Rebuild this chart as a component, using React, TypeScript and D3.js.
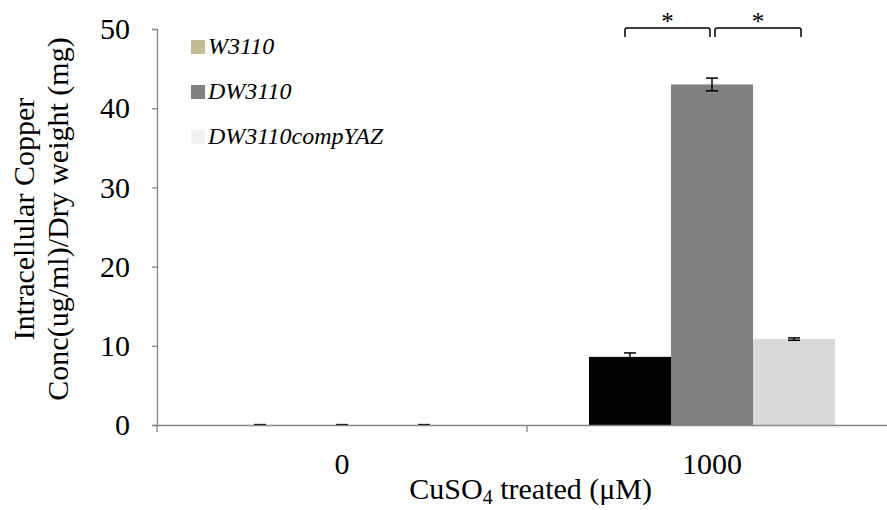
import * as d3 from "d3";
import { useEffect, useRef } from "react";

const categories = ["0", "1000"];
const seriesNames = ["W3110", "DW3110", "DW3110compYAZ"];
const barColors = ["#000000", "#808080", "#d9d9d9"];
const legendColors = ["#c4bc96", "#808080", "#f2f2f2"];
const values = [
    [0, 0, 0],
    [8.6, 43.0, 10.85],
];
const errors = [
    [0.05, 0.05, 0.05],
    [0.5, 0.8, 0.15],
];
const yTicks = [0, 10, 20, 30, 40, 50];

function drawChart(svgElement: SVGSVGElement) {
    const svg = d3.select(svgElement);
    svg.selectAll("*").remove();

    const margin = { top: 29, right: -10, bottom: 85, left: 157 };
    const width = 887 - margin.left - margin.right;
    const height = 510 - margin.top - margin.bottom;
    const font = "'Liberation Serif', 'Times New Roman', serif";

    const chart = svg
        .append("g")
        .attr("transform", `translate(${margin.left},${margin.top})`);

    const x = d3.scaleBand().domain(categories).range([0, width]);
    const y = d3.scaleLinear().domain([0, 50]).range([height, 0]);

    const groupWidth = x.bandwidth() * 0.665;
    const x1 = d3
        .scaleBand()
        .domain(seriesNames)
        .range([(x.bandwidth() - groupWidth) / 2, (x.bandwidth() + groupWidth) / 2]);

    // Bars + error bars
    categories.forEach((cat, ci) => {
        const g = chart.append("g").attr("transform", `translate(${x(cat)},0)`);
        seriesNames.forEach((s, si) => {
            const v = values[ci][si];
            g.append("rect")
                .attr("x", x1(s)!)
                .attr("y", y(v))
                .attr("width", x1.bandwidth())
                .attr("height", height - y(v))
                .attr("fill", barColors[si]);
            const cx = x1(s)! + x1.bandwidth() / 2;
            const e = errors[ci][si];
            g.append("line")
                .attr("x1", cx).attr("x2", cx)
                .attr("y1", y(v + e)).attr("y2", y(Math.max(0, v - e)))
                .attr("stroke", "#000").attr("stroke-width", 1.5);
            [v + e, Math.max(0, v - e)].forEach((yy) => {
                g.append("line")
                    .attr("x1", cx - 6).attr("x2", cx + 6)
                    .attr("y1", y(yy)).attr("y2", y(yy))
                    .attr("stroke", "#000").attr("stroke-width", 1.5);
            });
        });
    });

    // Y axis
    const yAxis = chart
        .append("g")
        .call(d3.axisLeft(y).tickValues(yTicks).tickSize(5).tickPadding(22));
    yAxis.selectAll("line").attr("stroke", "#868686").attr("stroke-width", 1.3);
    yAxis.select(".domain").attr("stroke", "#868686").attr("stroke-width", 1.3);
    yAxis.selectAll("text")
        .style("font-family", font)
        .style("font-size", "30px")
        .style("fill", "#000");

    // X axis
    const xAxis = chart
        .append("g")
        .attr("transform", `translate(0,${height})`)
        .call(d3.axisBottom(x).tickSize(0).tickPadding(28));
    xAxis.select(".domain").attr("stroke", "#868686").attr("stroke-width", 1.3);
    xAxis.selectAll("text")
        .style("font-family", font)
        .style("font-size", "30px")
        .style("fill", "#000");
    categories.forEach((c) => {
        chart.append("line")
            .attr("x1", x(c)!).attr("x2", x(c)!)
            .attr("y1", height).attr("y2", height + 7)
            .attr("stroke", "#868686").attr("stroke-width", 1.3);
    });

    // X label
    const xl = chart
        .append("text")
        .attr("x", x.step() * 1.01)
        .attr("y", height + 74)
        .attr("text-anchor", "middle")
        .style("font-family", font)
        .style("font-size", "30px")
        .style("fill", "#000");
    xl.append("tspan").text("CuSO");
    xl.append("tspan").attr("font-size", "20px").attr("dy", 5).text("4");
    xl.append("tspan").attr("dy", -5).text(" treated (\u03BCM)");

    // Y label
    const yl = chart
        .append("text")
        .attr("transform", `translate(${-123}, ${height / 2 - 8}) rotate(-90)`)
        .attr("text-anchor", "middle")
        .style("font-family", font)
        .style("font-size", "30px")
        .style("fill", "#000");
    yl.append("tspan").attr("x", 0).attr("dy", 0).text("Intracellular Copper");
    yl.append("tspan").attr("x", 0).attr("dy", 34).text("Conc(ug/ml)/Dry weight (mg)");

    // Legend
    const legend = chart.append("g").attr("transform", `translate(34, 18)`);
    seriesNames.forEach((s, i) => {
        const gy = i * 45;
        legend.append("rect")
            .attr("x", 0).attr("y", gy - 7)
            .attr("width", 14).attr("height", 14)
            .attr("fill", legendColors[i]);
        legend.append("text")
            .attr("x", 17).attr("y", gy + 7)
            .style("font-family", font)
            .style("font-size", "24px")
            .style("font-style", "italic")
            .style("fill", "#000")
            .text(s);
    });

    // Significance brackets
    const g1 = x("1000")!;
    const centers = seriesNames.map((s) => g1 + x1(s)! + x1.bandwidth() / 2);
    const bracketY = -1;
    const pairs = [
        [centers[0] - 5, centers[1] - 2],
        [centers[1] + 3, centers[2] + 7],
    ];
    pairs.forEach(([a, b]) => {
        chart.append("path")
            .attr("d", `M${a},${bracketY + 9} L${a},${bracketY + 2} Q${a},${bracketY} ${a + 2},${bracketY} L${b - 2},${bracketY} Q${b},${bracketY} ${b},${bracketY + 2} L${b},${bracketY + 9}`)
            .attr("fill", "none")
            .attr("stroke", "#000")
            .attr("stroke-width", 1.5);
        chart.append("text")
            .attr("x", (a + b) / 2)
            .attr("y", bracketY + 2)
            .attr("text-anchor", "middle")
            .style("font-family", font)
            .style("font-size", "25px")
            .style("fill", "#000")
            .text("*");
    });
}

export default function App() {
    const ref = useRef<SVGSVGElement | null>(null);

    useEffect(() => {
        if (ref.current) drawChart(ref.current);
    }, []);

    return (
        <svg
            ref={ref}
            width={887}
            height={510}
            style={{ position: "absolute", left: 0, top: 0, background: "#fff" }}
        ></svg>
    );
}
